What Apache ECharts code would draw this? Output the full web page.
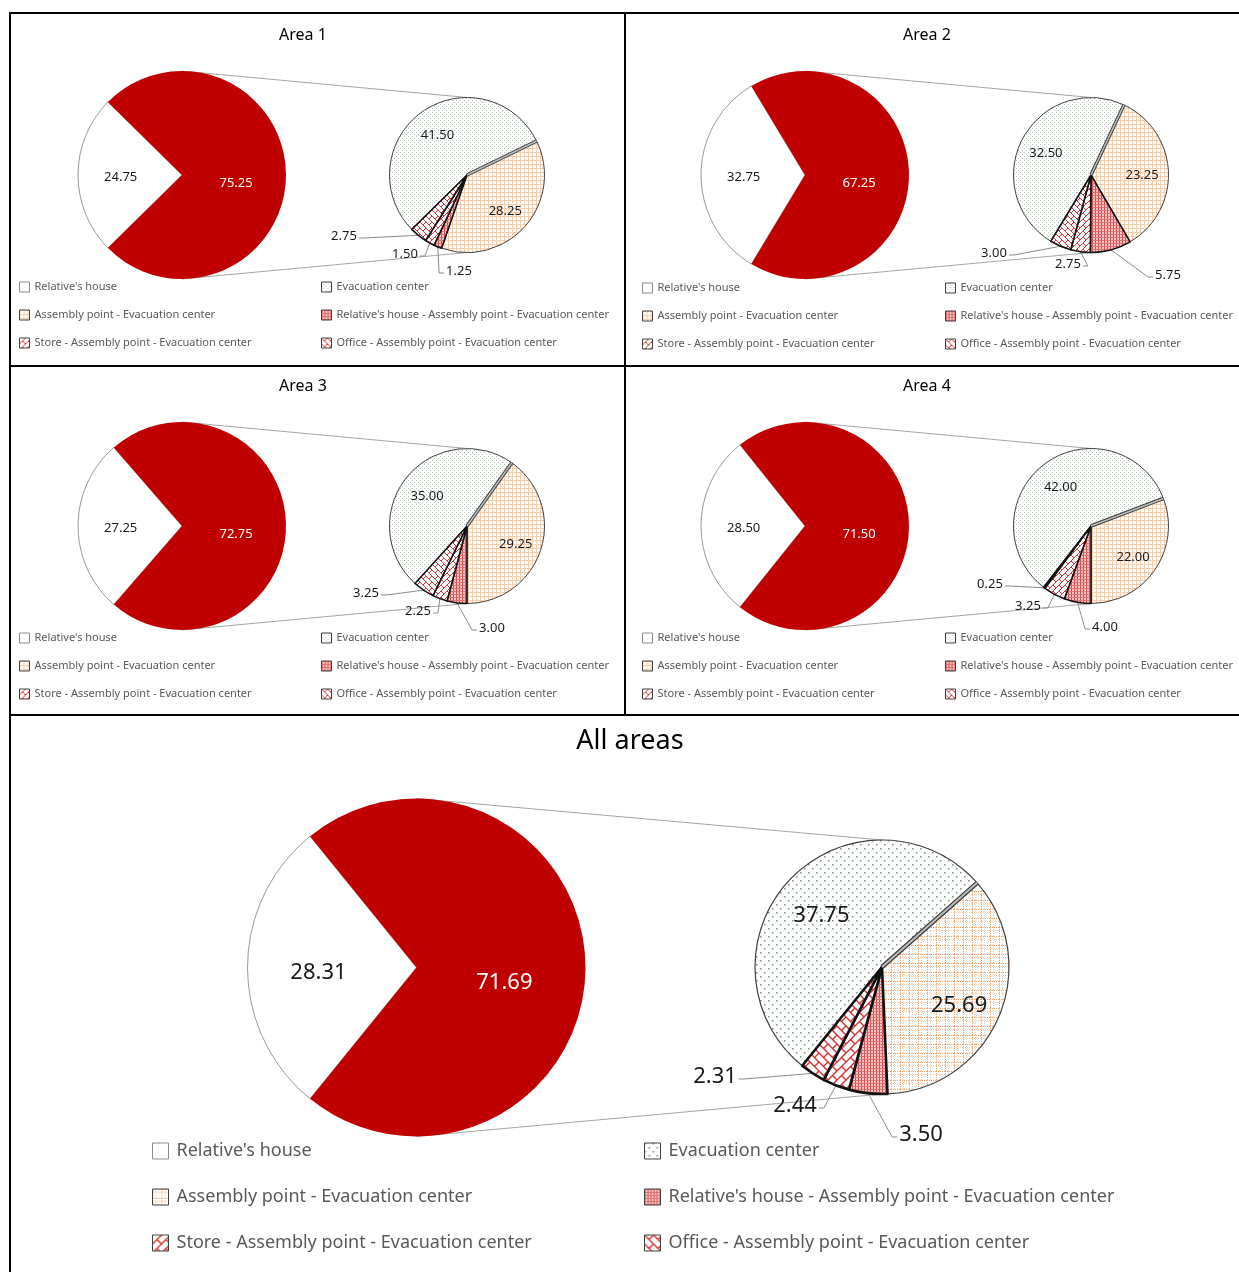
<!DOCTYPE html>
<html>
<head>
<meta charset="utf-8">
<title>Evacuation routes by area</title>
<script src="https://cdn.jsdelivr.net/npm/echarts@6/dist/echarts.min.js"></script>
<style>
  html, body { margin: 0; padding: 0; background: #fff; }
  #chart { width: 1239px; height: 1272px; }
</style>
</head>
<body>
<div id="chart"></div>
<script>
// ---- Data (percent of respondents) ----
const areaNames = ['Area 1', 'Area 2', 'Area 3', 'Area 4', 'All areas'];
const relativesHouse = [24.75, 32.75, 27.25, 28.50, 28.31];
const otherRoutes = [75.25, 67.25, 72.75, 71.50, 71.69];
const evacuationCenter = [41.50, 32.50, 35.00, 42.00, 37.75];
const assemblyEvac = [28.25, 23.25, 29.25, 22.00, 25.69];
const relativesAssemblyEvac = [1.25, 5.75, 3.00, 4.00, 3.50];
const storeAssemblyEvac = [1.50, 2.75, 2.25, 3.25, 2.44];
const officeAssemblyEvac = [2.75, 3.00, 3.25, 0.25, 2.31];

const NAME_RH = "Relative's house";
const NAME_EC = 'Evacuation center';
const NAME_AE = 'Assembly point - Evacuation center';
const NAME_RAE = "Relative's house - Assembly point - Evacuation center";
const NAME_SAE = 'Store - Assembly point - Evacuation center';
const NAME_OAE = 'Office - Assembly point - Evacuation center';
const legendCol1 = [NAME_RH, NAME_AE, NAME_SAE];
const legendCol2 = [NAME_EC, NAME_RAE, NAME_OAE];

// ---- Layout of each panel (pixels) ----
const small = { titleSize: 16, labelSize: 13, legendIcon: 10, legendFont: 11, legendLine: 14, legendGap: 14, legendTextPad: 0, tile: 'small',
  leftFrac: [0.59, 0.52], leftDy: [0.02, 0.08], rightFrac: 0.66, rightDy: 0.03 };
const big = { titleSize: 27, labelSize: 22, legendIcon: 16, legendFont: 18, legendLine: 22, legendGap: 24, legendTextPad: 3, tile: 'big',
  leftFrac: [0.58, 0.52], leftDy: [0.03, 0.09], rightFrac: 0.66, rightDy: 0.05 };
const layouts = [
  Object.assign({}, small, { title: [303, 35], left: [182, 175, 104], right: [467, 175, 77.5], rot: 26,
    legendX: [19, 321], legendTop: 280, smallLabels: [[459, 271], [405, 254], [344, 236]] }),
  Object.assign({}, small, { title: [927, 35], left: [805, 175, 104], right: [1091, 175, 77.5], rot: 64.8,
    legendX: [642, 945], legendTop: 281, smallLabels: [[1168, 275], [1068, 264], [994, 253]] }),
  Object.assign({}, small, { title: [303, 386], left: [182, 526, 104], right: [467, 526, 77.5], rot: 54.7,
    legendX: [19, 321], legendTop: 631, smallLabels: [[492, 628], [418, 611], [366, 593]] }),
  Object.assign({}, small, { title: [927, 386], left: [805, 526, 104], right: [1091, 526, 77.5], rot: 20.8,
    legendX: [642, 945], legendTop: 631, smallLabels: [[1105, 627], [1028, 606], [990, 584]] }),
  Object.assign({}, big, { title: [630, 741], left: [416.5, 967.5, 169], right: [882, 967, 127], rot: 41.5,
    legendX: [152, 644], legendTop: 1140, smallLabels: [[921, 1135], [795, 1106], [715, 1077]] })
];

const FONT = '"Noto Sans", "DejaVu Sans", sans-serif';

// ---- Pattern fills ----
function tile(size, draw) {
  const c = document.createElement('canvas');
  c.width = size; c.height = size;
  const g = c.getContext('2d');
  g.fillStyle = '#ffffff';
  g.fillRect(0, 0, size, size);
  draw(g, size);
  return { image: c, repeat: 'repeat' };
}
function seg(g, x1, y1, x2, y2) { g.beginPath(); g.moveTo(x1, y1); g.lineTo(x2, y2); g.stroke(); }

function makePatterns(isBig) {
  const dots = isBig
    ? tile(8, (g) => { g.fillStyle = '#7a957a'; g.fillRect(0, 0, 1.5, 1.5); g.fillRect(4, 4, 1.5, 1.5); })
    : tile(4, (g) => { g.fillStyle = '#bcc8bc'; g.fillRect(0, 0, 1, 1); g.fillRect(2, 2, 1, 1); });
  const grid = isBig
    ? tile(9, (g) => {
        g.fillStyle = '#f3a267';
        for (let i = 0; i < 9; i += 2) { g.fillRect(0, i, 1, 1); g.fillRect(i, 0, 1, 1); }
        g.fillStyle = '#f9cfb0';
        for (let i = 0; i < 9; i += 2) { g.fillRect(3, i, 1, 1); g.fillRect(i, 3, 1, 1); }
      })
    : tile(4, (g) => {
        g.fillStyle = '#f8cdab';
        g.fillRect(0, 0, 4, 1); g.fillRect(0, 0, 1, 4);
      });
  const dense = tile(3, (g) => {
    g.fillStyle = '#f4c5c5'; g.fillRect(0, 0, 3, 3);
    g.fillStyle = '#d94848'; g.fillRect(0, 0, 1, 3);
    g.fillStyle = '#e27272'; g.fillRect(0, 0, 3, 1);
  });
  const T = isBig ? 9 : 6;
  const lw = isBig ? 1.4 : 1;
  const store = tile(T, (g, s) => {
    g.strokeStyle = '#d43535'; g.lineWidth = lw;
    seg(g, -1, s + 1, s + 1, -1);
    seg(g, -1, 1, 1, -1);
    seg(g, s - 1, s + 1, s + 1, s - 1);
    seg(g, s / 2, s / 2, s, s);
  });
  const office = tile(T, (g, s) => {
    g.strokeStyle = '#d43535'; g.lineWidth = lw;
    seg(g, -1, -1, s + 1, s + 1);
    seg(g, s - 1, -1, s + 1, 1);
    seg(g, -1, s - 1, 1, s + 1);
    seg(g, s / 2, s / 2, s, 0);
  });
  return { dots, grid, dense, store, office };
}
const patterns = { small: makePatterns(false), big: makePatterns(true) };

// ---- Build the option ----
const series = [];
const legends = [];
const graphics = [];

// Panel frame lines
const frame = [
  [9, 12, 1230, 2], [9, 12, 2, 1260], [624, 12, 2, 704], [9, 365, 1230, 2], [9, 714, 1230, 2]
];
frame.forEach(([x, y, w, h]) => graphics.push({ type: 'rect', z: 20, silent: true, shape: { x, y, width: w, height: h }, style: { fill: '#000' } }));

function rad(d) { return d * Math.PI / 180; }

areaNames.forEach((areaName, a) => {
  const L = layouts[a];
  const P = patterns[L.tile];
  const [lx, ly, lr] = L.left;
  const [rx, ry, rr] = L.right;

  // Title
  graphics.push({ type: 'text', silent: true, x: L.title[0], y: L.title[1],
    style: { text: areaName, fill: '#000', font: `${L.titleSize}px ${FONT}`, textAlign: 'center', textVerticalAlign: 'middle' } });

  // Connector lines between the two pies (drawn beneath them)
  graphics.push({ type: 'line', z: 0, silent: true, shape: { x1: lx, y1: ly - lr, x2: rx, y2: ry - rr }, style: { stroke: '#a6a6a6', lineWidth: 1 } });
  graphics.push({ type: 'line', z: 0, silent: true, shape: { x1: lx, y1: ly + lr, x2: rx, y2: ry + rr }, style: { stroke: '#a6a6a6', lineWidth: 1 } });

  // Left pie: relative's house vs. all other routes
  const leftVals = [relativesHouse[a], otherRoutes[a]];
  const leftSum = leftVals[0] + leftVals[1];
  const leftSpans = leftVals.map(v => v / leftSum * 360);
  const leftStart = 180 + leftSpans[0] / 2;
  series.push({
    type: 'pie', z: 3, silent: true, animation: false, clockwise: true,
    center: [lx, ly], radius: [0, lr], startAngle: leftStart, avoidLabelOverlap: false,
    label: { show: true, position: 'inside', fontFamily: FONT, fontSize: L.labelSize, formatter: p => p.value.toFixed(2) },
    labelLine: { show: false },
    labelLayout: (params) => {
      const i = params.dataIndex;
      let acc = leftStart;
      for (let k = 0; k < i; k++) acc -= leftSpans[k];
      const mid = rad(acc - leftSpans[i] / 2);
      return { x: lx + L.leftFrac[i] * lr * Math.cos(mid), y: ly - L.leftFrac[i] * lr * Math.sin(mid) + L.leftDy[i] * lr,
        align: 'center', verticalAlign: 'middle' };
    },
    data: [
      { name: NAME_RH, value: leftVals[0], itemStyle: { color: '#ffffff', borderColor: '#9a9a9a', borderWidth: 1 }, label: { color: '#1a1a1a' } },
      { name: 'Other', value: leftVals[1], itemStyle: { color: '#c00000', borderWidth: 0 }, label: { color: '#ffffff' } }
    ]
  });

  // Right pie: breakdown of the other routes (drawn evacuation center first so red outlines sit on top)
  const rightVals = [evacuationCenter[a], assemblyEvac[a], relativesAssemblyEvac[a], storeAssemblyEvac[a], officeAssemblyEvac[a]];
  const rightSum = rightVals.reduce((s, v) => s + v, 0);
  const rightSpans = rightVals.map(v => v / rightSum * 360);
  const rightStart = L.rot + rightSpans[0];
  const thin = L.tile === 'big' ? 1.2 : 1;
  const thick = L.tile === 'big' ? 2.6 : 1.6;
  const smallItem = (name, v, fill) => ({
    name, value: v,
    itemStyle: { color: fill, borderColor: '#111', borderWidth: thick },
    label: { show: true, position: 'outside' },
    labelLine: { show: true }
  });
  series.push({
    type: 'pie', z: 3, silent: true, animation: false, clockwise: true,
    center: [rx, ry], radius: [0, rr], startAngle: rightStart, avoidLabelOverlap: false,
    label: { show: true, position: 'outside', color: '#1a1a1a', fontFamily: FONT, fontSize: L.labelSize, formatter: p => p.value.toFixed(2) },
    labelLine: { show: false, lineStyle: { color: '#8c8c8c', width: 1 } },
    labelLayout: (params) => {
      const i = params.dataIndex;
      let acc = rightStart;
      for (let k = 0; k < i; k++) acc -= rightSpans[k];
      const mid = rad(acc - rightSpans[i] / 2);
      if (i < 2) {
        return { x: rx + L.rightFrac * rr * Math.cos(mid), y: ry - L.rightFrac * rr * Math.sin(mid) + L.rightDy * rr,
          align: 'center', verticalAlign: 'middle' };
      }
      const [tx, ty] = L.smallLabels[i - 2];
      const ex = rx + rr * Math.cos(mid);
      const ey = ry - rr * Math.sin(mid);
      const side = tx > ex ? -1 : 1;
      const ax = tx + side * (params.labelRect.width / 2 + 2);
      const ay = ty + 2;
      return { x: tx, y: ty, align: 'center', verticalAlign: 'middle',
        labelLinePoints: [[ex, ey], [ax + side * 5, ay], [ax, ay]] };
    },
    data: [
      { name: NAME_EC, value: rightVals[0], itemStyle: { color: P.dots, borderColor: '#404040', borderWidth: thin } },
      { name: NAME_AE, value: rightVals[1], itemStyle: { color: P.grid, borderColor: '#404040', borderWidth: thin } },
      smallItem(NAME_RAE, rightVals[2], P.dense),
      smallItem(NAME_SAE, rightVals[3], P.store),
      smallItem(NAME_OAE, rightVals[4], P.office)
    ]
  });

  // Double divider line where the second pie begins
  const ang = rad(L.rot);
  const ex = rx + rr * Math.cos(ang), ey = ry - rr * Math.sin(ang);
  graphics.push({ type: 'line', z: 10, silent: true, shape: { x1: rx, y1: ry, x2: ex, y2: ey }, style: { stroke: '#3a3a3a', lineWidth: L.tile === 'big' ? 4.5 : 3.5 } });
  graphics.push({ type: 'line', z: 10, silent: true, shape: { x1: rx, y1: ry, x2: ex, y2: ey }, style: { stroke: '#bdbdbd', lineWidth: L.tile === 'big' ? 2 : 1.5 } });

  // Legends (two columns)
  const legendStyle = {};
  legendStyle[NAME_RH] = { color: '#ffffff', borderColor: '#8c8c8c', borderWidth: 1 };
  legendStyle[NAME_EC] = { color: P.dots, borderColor: '#404040', borderWidth: 1 };
  legendStyle[NAME_AE] = { color: P.grid, borderColor: '#404040', borderWidth: 1 };
  legendStyle[NAME_RAE] = { color: P.dense, borderColor: '#404040', borderWidth: 1 };
  legendStyle[NAME_SAE] = { color: P.store, borderColor: '#404040', borderWidth: 1 };
  legendStyle[NAME_OAE] = { color: P.office, borderColor: '#404040', borderWidth: 1 };
  [legendCol1, legendCol2].forEach((names, c) => {
    legends.push({
      orient: 'vertical', left: L.legendX[c], top: L.legendTop, padding: 0,
      itemGap: L.legendGap, itemWidth: L.legendIcon, itemHeight: L.legendIcon, icon: 'rect',
      selectedMode: false,
      textStyle: { fontFamily: FONT, fontSize: L.legendFont, color: '#595959', lineHeight: L.legendLine,
        padding: [0, 0, 0, L.legendTextPad] },
      data: names.map(n => ({ name: n, icon: 'rect', itemStyle: legendStyle[n] }))
    });
  });
});

const chart = echarts.init(document.getElementById('chart'), null, { renderer: 'canvas' });
chart.setOption({
  backgroundColor: '#ffffff',
  animation: false,
  legend: legends,
  series: series,
  graphic: { elements: graphics }
});
</script>
</body>
</html>
